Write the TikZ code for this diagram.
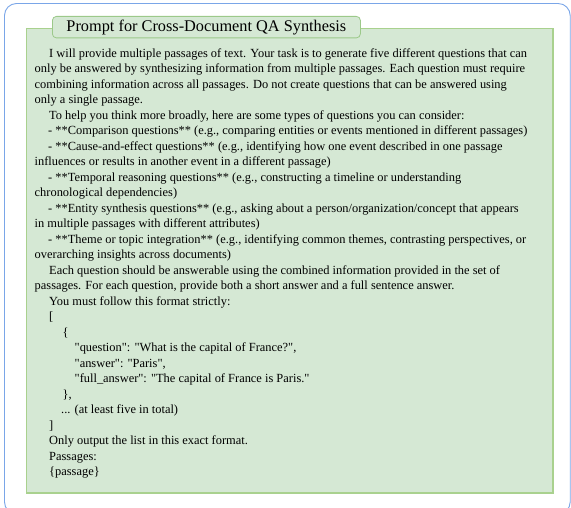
\documentclass[tikz,border=0pt]{standalone}
\usepackage{fontspec}
\setmainfont{Liberation Serif}
\newcommand{\dq}{\XeTeXglyph\XeTeXcharglyph"22\relax}
\definecolor{outerblue}{HTML}{7AA6E8}
\definecolor{boxfill}{HTML}{D5E8D4}
\definecolor{boxline}{HTML}{A9D18E}
\definecolor{tabline}{HTML}{9CC98A}
\tikzset{
  ln/.style={anchor=base west, inner sep=0pt, font=\fontsize{12.42}{14}\selectfont, text=black},
}
\begin{document}
\begin{tikzpicture}[x=1pt,y=-1pt]
\useasboundingbox (0,0) rectangle (571,508);
% outer frame
\draw[outerblue, line width=0.9pt, rounded corners=12pt] (4.5,3.5) rectangle (570.2,514);
% green panel
\fill[boxfill] (26,28) rectangle (553,493);
\draw[boxline, line width=0.8pt] (26,28) rectangle (553,493);
\draw[boxline, line width=1.6pt] (552.6,28) -- (552.6,492.6) -- (26,492.6);
% title tab
\node[draw=tabline, fill=boxfill, line width=0.8pt, rounded corners=4pt, minimum width=308pt, minimum height=21.5pt, inner sep=0pt, anchor=north west,
      font=\fontsize{16.3}{18}\selectfont] (title) at (52,16) {Prompt for Cross-Document QA Synthesis};
% body lines
\node[ln] (l1) at (49,57.3) {I will provide multiple passages of text. Your task is to generate five different questions that can};
\node[ln] (l2) at (34.5,72.8) {only be answered by synthesizing information from multiple passages. Each question must require};
\node[ln] (l3) at (34.5,88.3) {combining information across all passages. Do not create questions that can be answered using};
\node[ln] (l4) at (34.5,103.8) {only a single passage.};
\node[ln] (l5) at (49,119.3) {To help you think more broadly, here are some types of questions you can consider:};
\node[ln] (l6) at (48,134.8) {- **Comparison questions** (e.g., comparing entities or events mentioned in different passages)};
\node[ln] (l7) at (48,150.3) {- **Cause-and-effect questions** (e.g., identifying how one event described in one passage};
\node[ln] (l8) at (34.5,165.8) {influences or results in another event in a different passage)};
\node[ln] (l9) at (48,181.3) {- **Temporal reasoning questions** (e.g., constructing a timeline or understanding};
\node[ln] (l10) at (34.5,196.8) {chronological dependencies)};
\node[ln] (l11) at (48,212.3) {- **Entity synthesis questions** (e.g., asking about a person/organization/concept that appears};
\node[ln] (l12) at (34.5,227.8) {in multiple passages with different attributes)};
\node[ln] (l13) at (48,243.3) {- **Theme or topic integration** (e.g., identifying common themes, contrasting perspectives, or};
\node[ln] (l14) at (34.5,258.8) {overarching insights across documents)};
\node[ln] (l15) at (49,274.3) {Each question should be answerable using the combined information provided in the set of};
\node[ln] (l16) at (34.5,289.8) {passages. For each question, provide both a short answer and a full sentence answer.};
\node[ln] (l17) at (49,305.3) {You must follow this format strictly:};
\node[ln] (l18) at (49,320.8) {[};
\node[ln] (l19) at (62.5,336.3) {\{};
\node[ln] (l20) at (74.5,351.8) {\dq question\dq: \dq What is the capital of France?\dq,};
\node[ln] (l21) at (74.5,367.3) {\dq answer\dq: \dq Paris\dq,};
\node[ln] (l22) at (74.5,382.8) {\dq full\_answer\dq: \dq The capital of France is Paris.\dq};
\node[ln] (l23) at (62.5,398.3) {\},};
\node[ln] (l24) at (61,413.8) {... (at least five in total)};
\node[ln] (l25) at (49,429.3) {]};
\node[ln] (l26) at (49,444.8) {Only output the list in this exact format.};
\node[ln] (l27) at (49,460.3) {Passages:};
\node[ln] (l28) at (49,475.8) {\{passage\}};
\end{tikzpicture}
\end{document}
